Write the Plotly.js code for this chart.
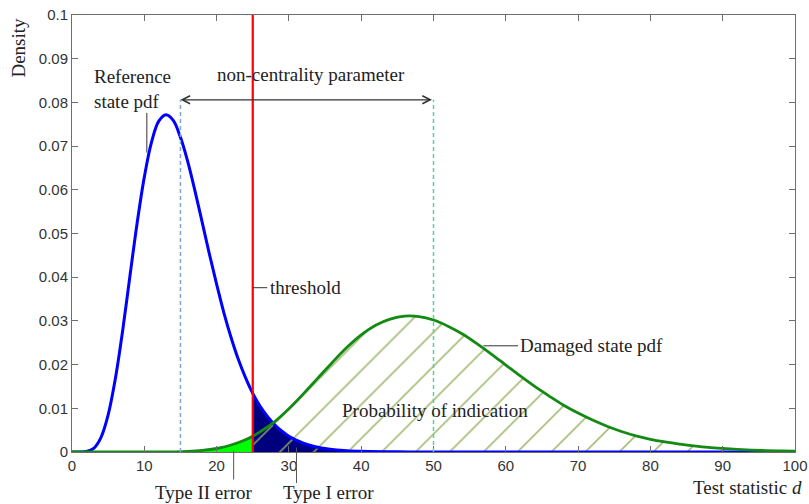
<!DOCTYPE html>
<html>
<head>
<meta charset="utf-8">
<script src="https://cdn.plot.ly/plotly-3.0.1.min.js"></script>
<style>
  html, body { margin: 0; padding: 0; background: #ffffff; }
  #chart { width: 809px; height: 504px; }
</style>
</head>
<body>
<div id="chart"></div>
<script>
// ---- data ----
const refX = [0,1,2,3,4,5,6,7,8,9,10,11,12,13,14,15,16,17,18,19,20,21,22,23,24,25,26,27,28,29,30,31,32,33,34,35,36,38,40,45,50,60,70,80,90,100];
const refY = [0,0.000002,0.0001,0.00083,0.0033,0.0085,0.0168,0.0277,0.0401,0.0523,0.0629,0.0709,0.0757,0.0772,0.0759,0.0720,0.0665,0.0598,0.0526,0.0453,0.0384,0.0319,0.0262,0.0212,0.0170,0.0134,0.0105,0.0082,0.0063,0.0048,0.0036,0.0027,0.0020,0.0015,0.0011,0.0008,0.0006,0.0003,0.00016,0.00003,0.000004,0,0,0,0,0];

const dmgX = [0,4,8,10,12,14,16,18,20,22,24,25,26,28,30,32,34,36,38,40,42,44,46,48,50,52,54,56,58,60,62,64,66,68,70,72,74,76,78,80,82,84,86,88,90,92,94,96,98,100];
const dmgY = [0,0,0,0.000002,0.00001,0.00004,0.00013,0.00035,0.0008,0.0016,0.0028,0.0036,0.0046,0.0069,0.0099,0.0133,0.0169,0.0205,0.0239,0.0268,0.0290,0.0304,0.0311,0.0310,0.0302,0.0288,0.0270,0.0248,0.0224,0.0199,0.0174,0.0150,0.0128,0.0107,0.0089,0.0073,0.0059,0.0047,0.0037,0.0029,0.0023,0.0018,0.0014,0.00105,0.0008,0.0006,0.00045,0.00033,0.00025,0.00018];

const THRESHOLD = 25;
const REF_MEAN = 15;
const DMG_MEAN = 50;
const ARROW_Y = 0.0806;

const xTickVals = [0,10,20,30,40,50,60,70,80,90,100];
const xTickText = ['0','10','20','30','40','50','60','70','80','90','100'];
const yTickVals = [0,0.01,0.02,0.03,0.04,0.05,0.06,0.07,0.08,0.09,0.1];
const yTickText = ['0','0.01','0.02','0.03','0.04','0.05','0.06','0.07','0.08','0.09','0.1'];

// ---- derived subsets ----
function part(xs, ys, test) {
  const ox = [], oy = [];
  xs.forEach((v, i) => { if (test(v)) { ox.push(v); oy.push(ys[i]); } });
  return {x: ox, y: oy};
}
const dmgBelow = part(dmgX, dmgY, v => v <= THRESHOLD);
const dmgAbove = part(dmgX, dmgY, v => v >= THRESHOLD);
const refAbove = part(refX, refY, v => v >= THRESHOLD);

const SERIF = 'Liberation Serif, Times New Roman, serif';
const SANS = 'Liberation Sans, Arial, sans-serif';
const TXT = '#222222';

const traces = [
  { x: dmgBelow.x, y: dmgBelow.y, type: 'scatter', mode: 'lines', fill: 'tozeroy',
    fillcolor: '#00ff00', line: {width: 0, shape: 'spline', color: '#00ff00'}, hoverinfo: 'skip' },
  { x: refAbove.x, y: refAbove.y, type: 'scatter', mode: 'lines', fill: 'tozeroy',
    fillcolor: '#00007f', line: {width: 0, shape: 'spline', color: '#00007f'}, hoverinfo: 'skip' },
  { x: dmgAbove.x, y: dmgAbove.y, type: 'scatter', mode: 'lines', fill: 'tozeroy',
    fillcolor: 'rgba(0,0,0,0)',
    fillpattern: {shape: '/', fgcolor: '#96b060', fgopacity: 1, bgcolor: 'rgba(0,0,0,0)', size: 24, solidity: 0.06, fillmode: 'overlay'},
    line: {width: 0, shape: 'spline', color: '#96b060'}, hoverinfo: 'skip' },
  { x: refX, y: refY, type: 'scatter', mode: 'lines',
    line: {color: '#0000ff', width: 3, shape: 'spline'} },
  { x: dmgX, y: dmgY, type: 'scatter', mode: 'lines',
    line: {color: '#138a13', width: 2.8, shape: 'spline'} }
];

const shapes = [
  // dashed mean markers
  { type: 'line', xref: 'x', yref: 'y', x0: REF_MEAN, x1: REF_MEAN, y0: 0, y1: ARROW_Y,
    line: {color: '#7ea6d6', width: 1.5, dash: '4px,3px'} },
  { type: 'line', xref: 'x', yref: 'y', x0: DMG_MEAN, x1: DMG_MEAN, y0: 0, y1: ARROW_Y,
    line: {color: '#55d49a', width: 1.5, dash: '4px,3px'} },
  // threshold
  { type: 'line', xref: 'x', yref: 'y', x0: THRESHOLD, x1: THRESHOLD, y0: 0, y1: 0.1,
    line: {color: '#ff0000', width: 2.2}, layer: 'above' },
  // leader lines
  { type: 'line', xref: 'x', yref: 'y', x0: 10.35, x1: 10.35, y0: 0.0685, y1: 0.0776,
    line: {color: '#333333', width: 1} },
  { type: 'line', xref: 'x', yref: 'y', x0: 25, x1: 27.0, y0: 0.0376, y1: 0.0376,
    line: {color: '#333333', width: 1} },
  { type: 'line', xref: 'x', yref: 'y', x0: 56.9, x1: 61.7, y0: 0.0243, y1: 0.0243,
    line: {color: '#333333', width: 1} },
  { type: 'line', xref: 'x', yref: 'paper', x0: 22.36, x1: 22.36, y0: 0.004, y1: -0.063,
    line: {color: '#555555', width: 1} },
  { type: 'line', xref: 'x', yref: 'paper', x0: 31.05, x1: 31.05, y0: 0.010, y1: -0.071,
    line: {color: '#555555', width: 1} }
];

const f = {family: SERIF, size: 19, color: TXT};
const annotations = [
  { x: REF_MEAN, y: ARROW_Y, ax: DMG_MEAN, ay: ARROW_Y, xref: 'x', yref: 'y', axref: 'x', ayref: 'y',
    text: '', showarrow: true, arrowside: 'end+start', arrowhead: 5, startarrowhead: 5,
    arrowsize: 1.3, startarrowsize: 1.3, arrowwidth: 1.2, arrowcolor: '#333333', standoff: 0, startstandoff: 0 },
  { x: 2.76, y: 0.0831, xref: 'x', yref: 'y', text: 'Reference<br>state pdf', showarrow: false,
    xanchor: 'left', yanchor: 'middle', align: 'left', font: f },
  { x: 33, y: 0.0864, xref: 'x', yref: 'y', text: 'non-centrality parameter', showarrow: false,
    xanchor: 'center', yanchor: 'middle', font: f },
  { x: 27.05, y: 0.0376, xref: 'x', yref: 'y', text: 'threshold', showarrow: false,
    xanchor: 'left', yanchor: 'middle', font: f },
  { x: 61.75, y: 0.0243, xref: 'x', yref: 'y', text: 'Damaged state pdf', showarrow: false,
    xanchor: 'left', yanchor: 'middle', font: f },
  { x: 50.2, y: 0.0096, xref: 'x', yref: 'y', text: 'Probability of indication', showarrow: false,
    xanchor: 'center', yanchor: 'middle', font: f },
  { x: 18.19, y: -0.0923, xref: 'x', yref: 'paper', text: 'Type II error', showarrow: false,
    xanchor: 'center', yanchor: 'middle', font: f },
  { x: 35.5, y: -0.0923, xref: 'x', yref: 'paper', text: 'Type I error', showarrow: false,
    xanchor: 'center', yanchor: 'middle', font: f },
  { x: 1.013, y: -0.081, xref: 'paper', yref: 'paper', text: 'Test statistic <i>d</i>', showarrow: false,
    xanchor: 'right', yanchor: 'middle', font: f },
  { x: -0.0744, y: 0.926, xref: 'paper', yref: 'paper', text: 'Density', showarrow: false,
    textangle: -90, xanchor: 'center', yanchor: 'middle', font: f }
];

const axisCommon = {
  showgrid: false, zeroline: false, showline: true, linecolor: '#6e6e6e', linewidth: 1,
  mirror: 'ticks', ticks: 'inside', ticklen: 6, tickcolor: '#6e6e6e', tickwidth: 1,
  tickfont: {family: SANS, size: 15, color: '#333333'}, tickmode: 'array',
  ticklabeloverflow: 'allow'
};

const layout = {
  width: 809, height: 504,
  margin: {l: 72, r: 14, t: 15, b: 52},
  paper_bgcolor: '#ffffff', plot_bgcolor: '#ffffff',
  showlegend: false,
  xaxis: Object.assign({}, axisCommon, {range: [0, 100], tickvals: xTickVals, ticktext: xTickText}),
  yaxis: Object.assign({}, axisCommon, {range: [0, 0.1], tickvals: yTickVals, ticktext: yTickText}),
  shapes: shapes,
  annotations: annotations
};

Plotly.newPlot('chart', traces, layout, {staticPlot: true, displayModeBar: false});
</script>
</body>
</html>
